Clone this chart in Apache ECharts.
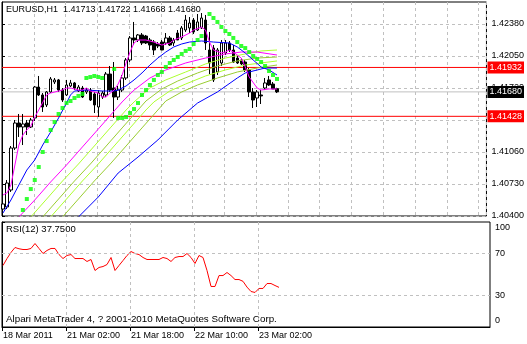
<!DOCTYPE html>
<html><head><meta charset="utf-8">
<script src="https://cdn.jsdelivr.net/npm/echarts@6/dist/echarts.min.js"></script>
<style>html,body{margin:0;padding:0;background:#fff;}#c{width:527px;height:344px;}</style>
</head><body><div id="c"></div>
<script>
const symbolName = 'EURUSD,H1';
const copyright = 'Alpari MetaTrader 4, ? 2001-2010 MetaQuotes Software Corp.';
const timeLabels = ['18 Mar 2011', '21 Mar 02:00', '21 Mar 18:00', '22 Mar 10:00', '23 Mar 02:00'];
const timeLabelSlots = [0, 16, 32, 48, 64];
const priceTicks = [1.40400, 1.40730, 1.41060, 1.41390, 1.41720, 1.42050, 1.42380];
const rsiTicks = [0, 30, 70, 100];
const rsiLevels = [30, 70];
const resistanceLevel = 1.41932;
const supportLevel = 1.41428;

const open = [1.40472,1.40493,1.40668,1.41101,1.41359,1.41318,1.41359,1.41318,1.41411,1.41730,
1.41648,1.41545,1.41679,1.41782,1.41803,1.41699,1.41648,1.41741,1.41772,1.41689,
1.41720,1.41679,1.41699,1.41658,1.41524,1.41627,1.41648,1.41864,1.41720,1.41627,
1.41699,1.41823,1.42009,1.42236,1.42215,1.42267,1.42256,1.42215,1.42194,1.42174,
1.42194,1.42184,1.42236,1.42184,1.42287,1.42236,1.42318,1.42339,1.42421,1.42318,
1.42339,1.42421,1.42112,1.42132,1.41885,1.41978,1.42081,1.42184,1.42112,1.42029,
1.42009,1.41988,1.41906,1.41679,1.41617,1.41648,1.41720,1.41803,1.41761,1.41713];
const high = [1.40895,1.40771,1.41122,1.41390,1.41452,1.41452,1.41390,1.41411,1.41741,1.41844,
1.41668,1.41689,1.41833,1.41823,1.41813,1.41720,1.41803,1.41803,1.41782,1.41751,
1.41741,1.41720,1.41720,1.41679,1.41699,1.41689,1.41885,1.41947,1.41988,1.41741,
1.41854,1.42029,1.42256,1.42401,1.42277,1.42287,1.42267,1.42236,1.42215,1.42194,
1.42215,1.42287,1.42256,1.42236,1.42318,1.42359,1.42473,1.42452,1.42442,1.42483,
1.42493,1.42473,1.42298,1.42163,1.42132,1.42215,1.42215,1.42205,1.42163,1.42050,
1.42029,1.42009,1.41926,1.41720,1.41699,1.41699,1.41823,1.41844,1.41782,1.41722];
const low = [1.40441,1.40472,1.40648,1.41081,1.41215,1.41132,1.41235,1.41308,1.41380,1.41638,
1.41473,1.41524,1.41668,1.41761,1.41679,1.41576,1.41638,1.41730,1.41699,1.41679,
1.41617,1.41658,1.41586,1.41462,1.41421,1.41607,1.41627,1.41679,1.41411,1.41596,
1.41679,1.41803,1.41988,1.42163,1.42194,1.42163,1.42174,1.42112,1.42060,1.42132,
1.42112,1.42163,1.42153,1.42153,1.42215,1.42215,1.42298,1.42287,1.42277,1.42308,
1.42328,1.42112,1.41864,1.41782,1.41854,1.41947,1.42060,1.42091,1.41978,1.41968,
1.41957,1.41885,1.41627,1.41514,1.41524,1.41555,1.41699,1.41741,1.41710,1.41668];
const close = [1.40524,1.40740,1.41101,1.41359,1.41318,1.41349,1.41318,1.41390,1.41730,1.41648,
1.41524,1.41679,1.41813,1.41803,1.41699,1.41596,1.41751,1.41772,1.41720,1.41730,
1.41627,1.41699,1.41596,1.41545,1.41668,1.41668,1.41864,1.41699,1.41627,1.41699,
1.41823,1.42009,1.42236,1.42215,1.42267,1.42184,1.42184,1.42163,1.42112,1.42153,
1.42112,1.42236,1.42163,1.42215,1.42215,1.42339,1.42421,1.42390,1.42298,1.42401,
1.42442,1.42184,1.41978,1.41803,1.42112,1.42184,1.42184,1.42112,1.41988,1.41978,
1.41968,1.41906,1.41679,1.41596,1.41679,1.41638,1.41772,1.41751,1.41710,1.41680];

const rsi = [58.6,65.2,71.0,75.7,74.5,73.8,73.8,74.8,79.5,74.8,
70.0,72.9,74.8,74.8,69.0,65.2,68.1,69.0,65.2,65.2,
65.2,62.4,64.3,53.8,56.7,57.6,59.5,66.2,53.8,58.6,
63.3,68.1,71.9,70.0,69.0,66.2,64.3,64.3,64.3,64.3,
66.2,65.2,62.4,66.2,67.1,67.1,70.0,66.2,60.5,68.1,
66.2,53.8,38.6,38.6,49.0,49.0,51.9,49.0,45.2,45.2,
43.5,38.0,33.8,32.9,36.7,36.7,41.4,41.4,39.5,37.75];

const sar = [[5,1.40462],[6,1.40575],[7,1.40678],[8,1.40771],[9,1.40905],[10,1.41060],[11,1.41173],[12,1.41287],
[13,1.41369],[14,1.41452],[15,1.41514],[16,1.41565],[17,1.41586],[18,1.41617],[19,1.41638],[20,1.41658],
[21,1.41823],[22,1.41833],[23,1.41844],[24,1.41833],[25,1.41823],[28,1.41916],
[29,1.41411],[30,1.41411],[31,1.41421],[32,1.41462],[33,1.41503],[34,1.41565],[35,1.41648],[36,1.41699],
[37,1.41751],[38,1.41803],[39,1.41854],[40,1.41885],[41,1.41937],[42,1.41978],[43,1.42009],[44,1.42040],
[45,1.42071],[46,1.42102],[47,1.42122],[48,1.42174],[49,1.42215],[50,1.42256],
[52,1.42483],[53,1.42442],[54,1.42401],[55,1.42349],[56,1.42308],[57,1.42277],[58,1.42236],[59,1.42194],
[60,1.42153],[61,1.42132],[62,1.42091],[63,1.42050],[64,1.42019],[65,1.41988],[66,1.41947],[67,1.41895],
[68,1.41854],[69,1.41813]];

const maMagentaFast = [[0,1.40617],[1,1.40637],[2,1.40720],[3,1.40926],[4,1.41132],[5,1.41235],[6,1.41287],[7,1.41328],
[8,1.41421],[9,1.41493],[11,1.41648],[12,1.41668],[15,1.41699],[16,1.41720],[17,1.41720],[19,1.41699],[20,1.41699],
[21,1.41720],[22,1.41689],[24,1.41668],[25,1.41627],[26,1.41627],[27,1.41668],[28,1.41699],[29,1.41761],[30,1.41854],
[31,1.41978],[32,1.42091],[33,1.42184],[34,1.42215],[36,1.42215],[38,1.42194],[40,1.42163],[42,1.42184],[43,1.42215],
[45,1.42246],[47,1.42287],[48,1.42318],[50,1.42349],[51,1.42318],[52,1.42194],[53,1.42112],[55,1.42081],[56,1.42091],
[57,1.42112],[58,1.42091],[60,1.42029],[61,1.41937],[62,1.41833],[64,1.41720],[65,1.41699],[67,1.41710],[69,1.41710]];
const maBlueFast = [[0,1.40431],[2,1.40565],[4,1.40720],[6,1.40874],[8,1.40978],[10,1.41132],[12,1.41266],[14,1.41411],
[16,1.41565],[17,1.41648],[18,1.41689],[21,1.41699],[25,1.41689],[28,1.41689],[29,1.41699],[31,1.41741],[33,1.41803],
[35,1.41875],[37,1.41957],[39,1.42029],[41,1.42091],[43,1.42143],[45,1.42174],[47,1.42194],[50,1.42205],[53,1.42194],
[57,1.42184],[59,1.42143],[61,1.42081],[63,1.42009],[65,1.41937],[67,1.41906],[69,1.41854]];
const maMagentaSlow = [[4,1.40390],[8,1.40565],[12,1.40751],[16,1.40926],[20,1.41112],[24,1.41297],[28,1.41483],[30,1.41576],
[33,1.41699],[37,1.41823],[41,1.41906],[46,1.41978],[51,1.42029],[56,1.42071],[60,1.42091],[64,1.42091],[69,1.42060]];
const maGreen1 = [[7,1.40390],[11,1.40575],[15,1.40761],[19,1.40936],[23,1.41122],[27,1.41308],[31,1.41493],[33,1.41576],
[37,1.41720],[41,1.41803],[46,1.41885],[51,1.41968],[56,1.42029],[61,1.42071],[65,1.42102],[69,1.42112]];
const maGreen2 = [[10,1.40390],[14,1.40575],[18,1.40761],[22,1.40936],[26,1.41122],[30,1.41308],[34,1.41493],[36,1.41586],
[40,1.41710],[44,1.41792],[49,1.41875],[54,1.41947],[59,1.41999],[64,1.42029],[69,1.42040]];
const maGreen3 = [[12,1.40390],[16,1.40575],[20,1.40761],[24,1.40936],[28,1.41122],[32,1.41308],[36,1.41493],[38,1.41576],
[42,1.41689],[46,1.41761],[51,1.41844],[56,1.41906],[61,1.41957],[65,1.41978],[69,1.41999]];
const maGreen4 = [[15,1.40390],[19,1.40575],[23,1.40761],[27,1.40936],[31,1.41122],[35,1.41308],[39,1.41493],[41,1.41586],
[45,1.41679],[49,1.41751],[54,1.41823],[59,1.41885],[64,1.41926],[69,1.41957]];
const maBlueSlow = [[19,1.40390],[24,1.40596],[29,1.40843],[34,1.41008],[39,1.41184],[44,1.41390],[49,1.41565],
[54,1.41679],[59,1.41823],[61,1.41875],[66,1.41926],[69,1.41926]];

// each bar occupies one slot; the slot axis starts a quarter bar before bar 0
const SLOT_MIN = 0, SLOT_MAX = 122;
const slot = b => b + 0.25;
const toXY = pairs => pairs.map(([b, p]) => [slot(b), p]);
const last = open.length - 1;
const bid = close[last];
const FONT = "'Liberation Sans', Arial, sans-serif";
const header = symbolName + '  ' + [open[last], high[last], low[last], close[last]].map(v => v.toFixed(5)).join(' ');

const gridDash = { color: '#c0c0c0', type: [3, 3], width: 1 };
const chart = echarts.init(document.getElementById('c'), null, { renderer: 'canvas' });

function lineSeries(name, pairs, color) {
  return { name, type: 'line', xAxisIndex: 0, yAxisIndex: 0, data: toXY(pairs), showSymbol: false, symbol: 'none',
    lineStyle: { color, width: 1 }, z: 4, silent: true, animation: false, clip: true };
}
// horizontal price level drawn across the whole plot, with its value box on the price scale
function levelSeries(name, value, color, boxColor) {
  return { name, type: 'line', xAxisIndex: 0, yAxisIndex: 0, data: [[SLOT_MIN, value], [SLOT_MAX, value]],
    showSymbol: false, symbol: 'none', lineStyle: { color, width: 1 }, z: 2, silent: true, animation: false, clip: false,
    endLabel: { show: true, distance: 1, formatter: () => value.toFixed(5), color: '#fff', backgroundColor: boxColor,
      padding: [2, 2, 1, 2], fontSize: 9, fontFamily: FONT, align: 'left', verticalAlign: 'middle' } };
}
const titleStyle = { fontSize: 9, fontWeight: 'normal', color: '#000', fontFamily: FONT };

chart.setOption({
  animation: false,
  backgroundColor: '#ffffff',
  textStyle: { fontFamily: FONT },
  title: [
    { text: header, left: 6, top: 5, padding: 0, textStyle: titleStyle },
    { text: 'RSI(12) ' + rsi[rsi.length - 1].toFixed(4), left: 6, top: 224, padding: 0, textStyle: Object.assign({}, titleStyle, { fontSize: 9.5 }) },
    { text: copyright, left: 6, top: 314, padding: 0, textStyle: Object.assign({}, titleStyle, { fontSize: 9.8 }) }
  ],
  grid: [
    { left: 2, top: 2, width: 488, height: 214, show: true, borderColor: '#000', borderWidth: 1, backgroundColor: '#fff' },
    { left: 2, top: 222, width: 488, height: 105, show: true, borderColor: '#000', borderWidth: 1, backgroundColor: '#fff' }
  ],
  xAxis: [
    { gridIndex: 0, type: 'value', min: SLOT_MIN, max: SLOT_MAX, interval: 8,
      axisLine: { show: false }, axisTick: { show: false }, axisLabel: { show: false },
      splitLine: { show: true, lineStyle: gridDash } },
    { gridIndex: 1, type: 'value', min: SLOT_MIN, max: SLOT_MAX, interval: 8,
      axisLine: { show: true, lineStyle: { color: '#000', width: 1 } },
      axisTick: { show: true, customValues: timeLabelSlots, length: 4, lineStyle: { color: '#000' } },
      axisLabel: { show: true, customValues: timeLabelSlots, formatter: v => timeLabels[timeLabelSlots.indexOf(v)] || '',
        align: 'left', margin: 4, fontSize: 9, color: '#000', fontFamily: FONT, padding: [0, 0, 0, 1] },
      splitLine: { show: true, lineStyle: gridDash } }
  ],
  yAxis: [
    { gridIndex: 0, type: 'value', position: 'right', min: 1.40400, max: 1.40400 + 214 * 0.000103125, interval: 0.0033,
      axisLine: { show: true, lineStyle: { color: '#000', width: 1 } },
      axisTick: { show: true, customValues: priceTicks, length: 3, lineStyle: { color: '#000' } },
      axisLabel: { show: true, customValues: priceTicks, formatter: v => v.toFixed(5), margin: 5, fontSize: 9, color: '#000', fontFamily: FONT },
      splitLine: { show: true, lineStyle: gridDash } },
    { gridIndex: 1, type: 'value', position: 'right', min: 0, max: 100,
      axisLine: { show: true, lineStyle: { color: '#000', width: 1 } },
      axisTick: { show: true, customValues: rsiTicks, length: 3, lineStyle: { color: '#000' } },
      axisLabel: { show: true, customValues: rsiTicks, lineHeight: 12,
        formatter: v => v === 100 ? '\n100' : (v === 0 ? '0\n' : String(v)),
        margin: 5, fontSize: 9, color: '#000', fontFamily: FONT },
      splitLine: { show: false } }
  ],
  series: [
    levelSeries('bid', bid, '#c0c0c0', '#000000'),
    levelSeries('resistance', resistanceLevel, '#ff0000', '#ff0000'),
    levelSeries('support', supportLevel, '#ff0000', '#ff0000'),
    { name: 'price', type: 'candlestick', xAxisIndex: 0, yAxisIndex: 0,
      dimensions: ['slot', 'open', 'close', 'low', 'high'],
      encode: { x: 'slot', y: ['open', 'close', 'low', 'high'] },
      data: open.map((o, i) => [slot(i), o, close[i], low[i], high[i]]),
      barWidth: 3, z: 3, silent: true, clip: true,
      itemStyle: { color: '#ffffff', color0: '#000000', borderColor: '#000000', borderColor0: '#000000', borderWidth: 1 } },
    lineSeries('ma-blue-slow', maBlueSlow, '#0000ff'),
    lineSeries('ma-green4', maGreen4, '#9acd32'),
    lineSeries('ma-green3', maGreen3, '#adff2f'),
    lineSeries('ma-green2', maGreen2, '#9acd32'),
    lineSeries('ma-green1', maGreen1, '#adff2f'),
    lineSeries('ma-magenta-slow', maMagentaSlow, '#ff00ff'),
    lineSeries('ma-blue-fast', maBlueFast, '#0000ff'),
    lineSeries('ma-magenta-fast', maMagentaFast, '#ff00ff'),
    { name: 'sar', type: 'scatter', xAxisIndex: 0, yAxisIndex: 0, data: toXY(sar), symbol: 'rect', symbolSize: 4,
      itemStyle: { color: '#00ff00' }, z: 6, silent: true, clip: true },
    { name: 'rsi', type: 'line', xAxisIndex: 1, yAxisIndex: 1, data: rsi.map((v, i) => [slot(i), v]),
      showSymbol: false, symbol: 'none', lineStyle: { color: '#ff0000', width: 1 }, z: 4, silent: true,
      markLine: { silent: true, symbol: ['none', 'none'], animation: false, label: { show: false },
        lineStyle: gridDash, data: rsiLevels.map(v => ({ yAxis: v })) } }
  ]
});
</script></body></html>
